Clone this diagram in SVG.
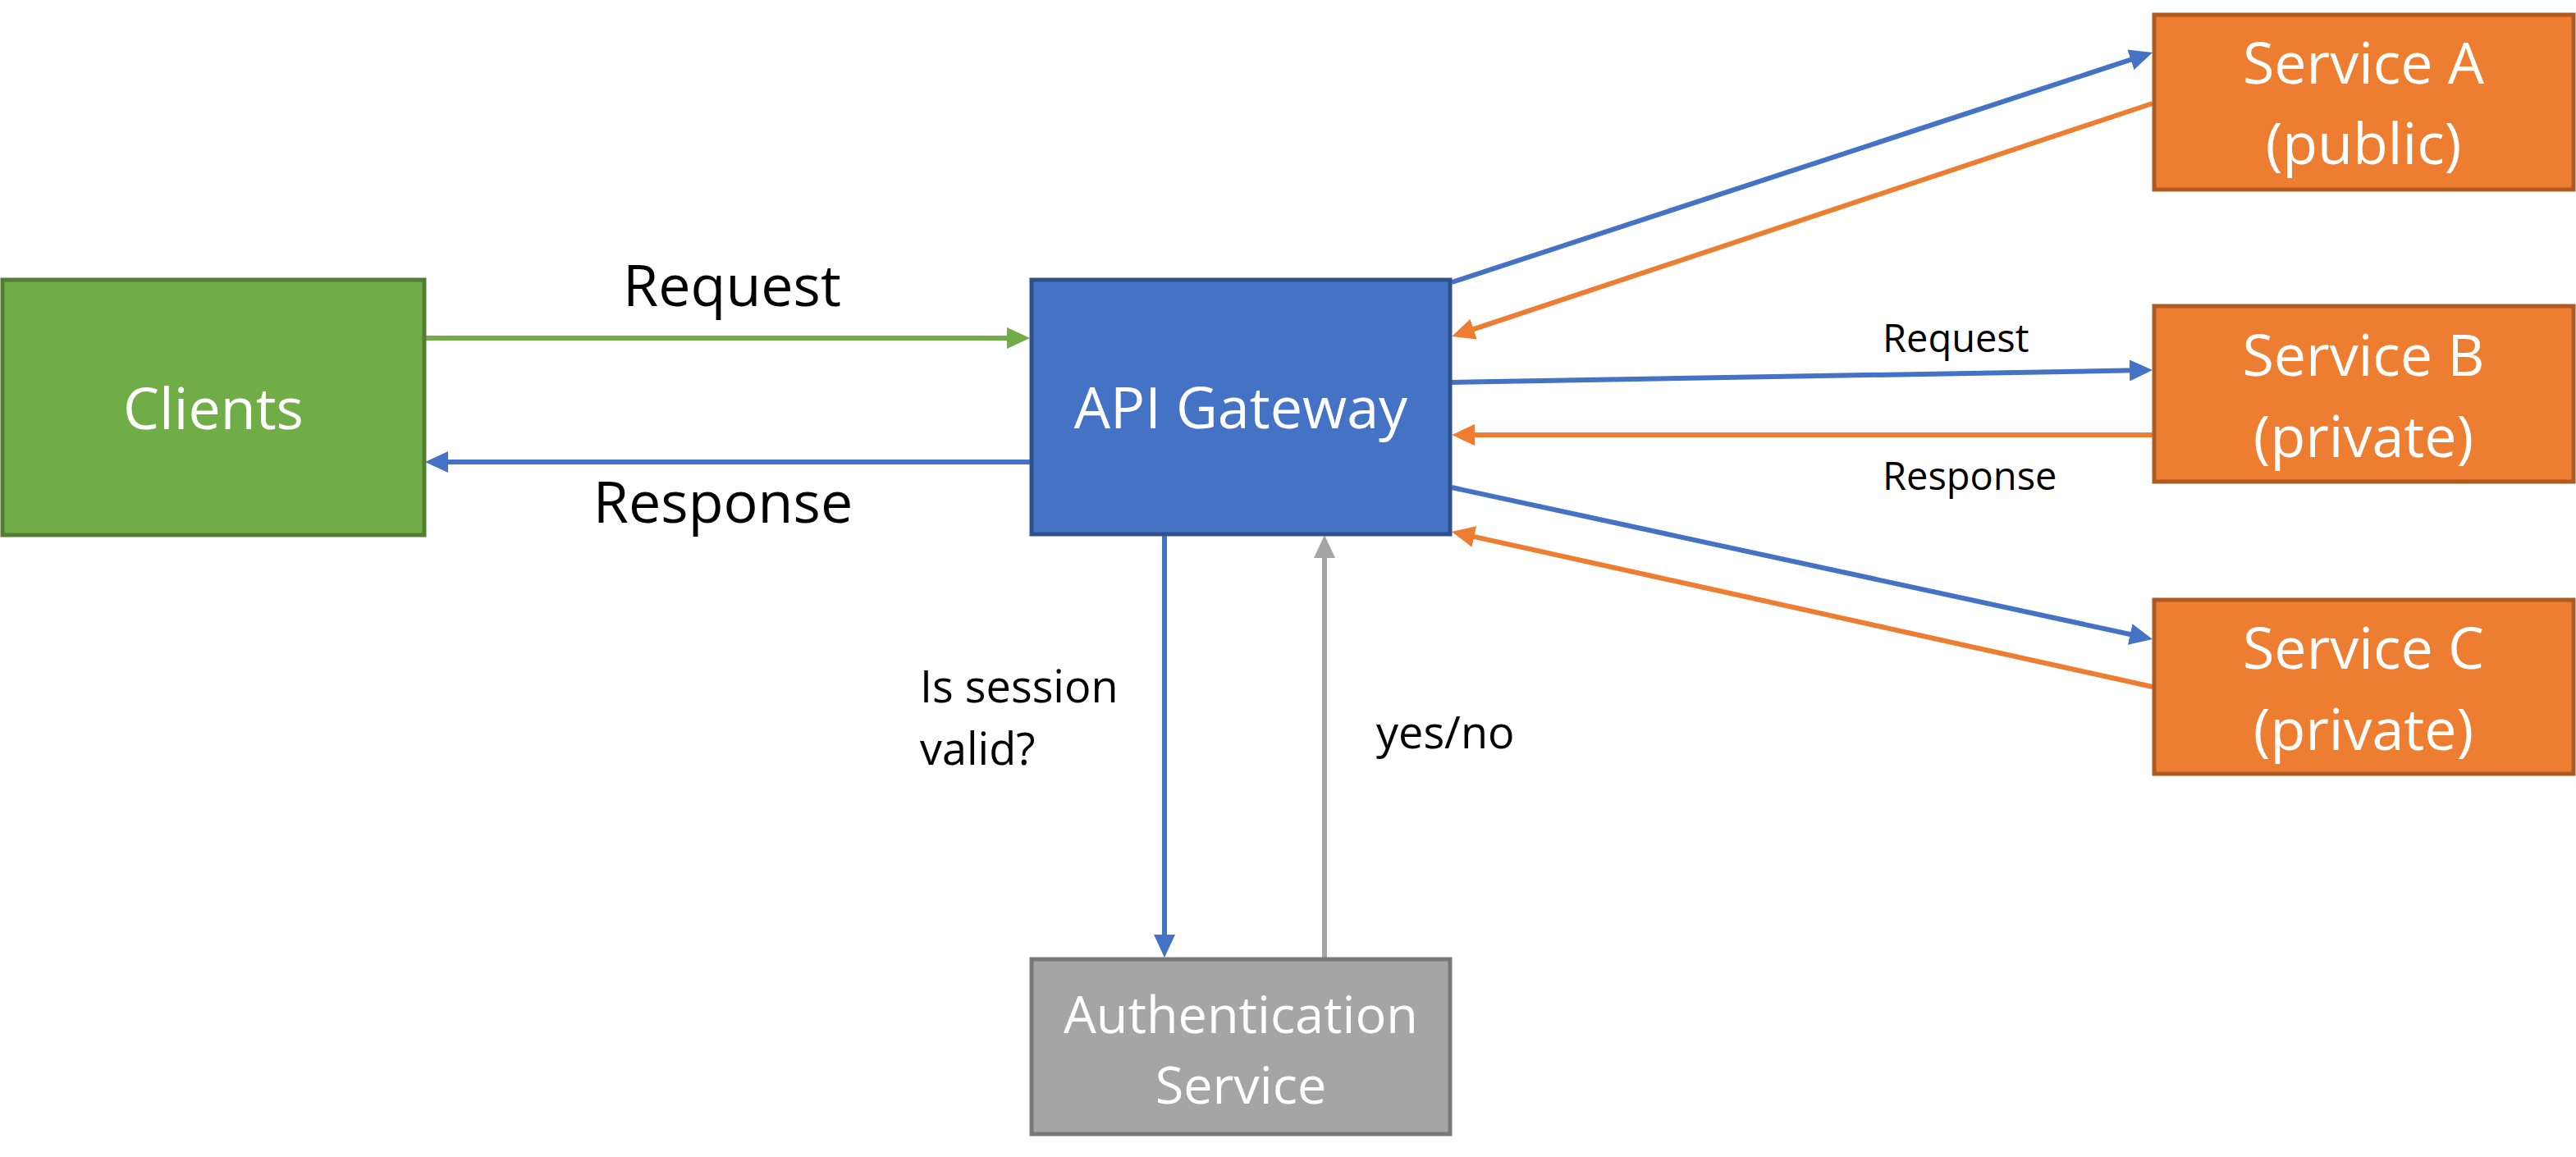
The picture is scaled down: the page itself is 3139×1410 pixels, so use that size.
<svg xmlns="http://www.w3.org/2000/svg" width="3139" height="1410" viewBox="0 0 3139 1410">
<style>
.box{stroke-width:5}
.g{fill:#70AD47;stroke:#507E32}
.b{fill:#4472C4;stroke:#2F528F}
.o{fill:#ED7D31;stroke:#AE5A21}
.a{fill:#A5A5A5;stroke:#787878}
.nl{font-family:"Open Sans","Liberation Sans",sans-serif;font-size:70px;fill:#FFFFFF;text-anchor:middle}
.lb{font-family:"Open Sans","Liberation Sans",sans-serif;fill:#000000}
.c{fill:none;stroke-width:6}
</style>
<defs>
<marker id="mg" markerUnits="userSpaceOnUse" markerWidth="28" markerHeight="26" refX="20" refY="13" orient="auto"><path d="M0,0 L28,13 L0,26 z" fill="#70AD47"/></marker>
<marker id="mb" markerUnits="userSpaceOnUse" markerWidth="28" markerHeight="26" refX="20" refY="13" orient="auto"><path d="M0,0 L28,13 L0,26 z" fill="#4472C4"/></marker>
<marker id="mo" markerUnits="userSpaceOnUse" markerWidth="28" markerHeight="26" refX="20" refY="13" orient="auto"><path d="M0,0 L28,13 L0,26 z" fill="#ED7D31"/></marker>
<marker id="ma" markerUnits="userSpaceOnUse" markerWidth="28" markerHeight="26" refX="20" refY="13" orient="auto"><path d="M0,0 L28,13 L0,26 z" fill="#A5A5A5"/></marker>
</defs>
<rect width="3139" height="1410" fill="#FFFFFF"/>
<g id="connectors">
<line class="c" x1="518" y1="412" x2="1247" y2="412" stroke="#70AD47" marker-end="url(#mg)"/>
<line class="c" x1="1255" y1="563" x2="526" y2="563" stroke="#4472C4" marker-end="url(#mb)"/>
<line class="c" x1="1769" y1="344" x2="2615.4" y2="66.5" stroke="#4472C4" marker-end="url(#mb)"/>
<line class="c" x1="2623" y1="126" x2="1776.6" y2="407.5" stroke="#ED7D31" marker-end="url(#mo)"/>
<line class="c" x1="1769" y1="466" x2="2615" y2="451.1" stroke="#4472C4" marker-end="url(#mb)"/>
<line class="c" x1="2623" y1="530" x2="1777" y2="530" stroke="#ED7D31" marker-end="url(#mo)"/>
<line class="c" x1="1769" y1="594" x2="2615.2" y2="777.3" stroke="#4472C4" marker-end="url(#mb)"/>
<line class="c" x1="2623" y1="837" x2="1776.8" y2="649.7" stroke="#ED7D31" marker-end="url(#mo)"/>
<line class="c" x1="1419" y1="652" x2="1419" y2="1159" stroke="#4472C4" marker-end="url(#mb)"/>
<line class="c" x1="1614" y1="1167" x2="1614" y2="660" stroke="#A5A5A5" marker-end="url(#ma)"/>
<text class="lb" x="892" y="373" font-size="70" text-anchor="middle">Request</text>
<text class="lb" x="881" y="637" font-size="70" text-anchor="middle">Response</text>
<text class="lb" x="2294" y="429" font-size="47">Request</text>
<text class="lb" x="2294" y="597" font-size="47">Response</text>
<text class="lb" x="1121" y="856" font-size="54">Is session</text>
<text class="lb" x="1121" y="932" font-size="54">valid?</text>
<text class="lb" x="1677" y="912" font-size="54">yes/no</text>
</g>
<g id="clients">
<rect class="box g" x="3" y="341" width="514" height="311"/>
<text class="nl" x="260" y="523">Clients</text>
</g>
<g id="api-gateway">
<rect class="box b" x="1257" y="341" width="510" height="310"/>
<text class="nl" x="1512" y="522">API Gateway</text>
</g>
<g id="service-a">
<rect class="box o" x="2625" y="18" width="511" height="213"/>
<text class="nl" x="2880" y="102">Service A</text>
<text class="nl" x="2880" y="200">(public)</text>
</g>
<g id="service-b">
<rect class="box o" x="2625" y="373" width="511" height="214"/>
<text class="nl" x="2880" y="458">Service B</text>
<text class="nl" x="2880" y="557">(private)</text>
</g>
<g id="service-c">
<rect class="box o" x="2625" y="731" width="511" height="212"/>
<text class="nl" x="2880" y="815">Service C</text>
<text class="nl" x="2880" y="914">(private)</text>
</g>
<g id="auth-service">
<rect class="box a" x="1257" y="1169" width="510" height="213"/>
<text class="nl" x="1512" y="1259" font-size="63" style="font-size:63px">Authentication</text>
<text class="nl" x="1512" y="1345" style="font-size:63px">Service</text>
</g>
</svg>
